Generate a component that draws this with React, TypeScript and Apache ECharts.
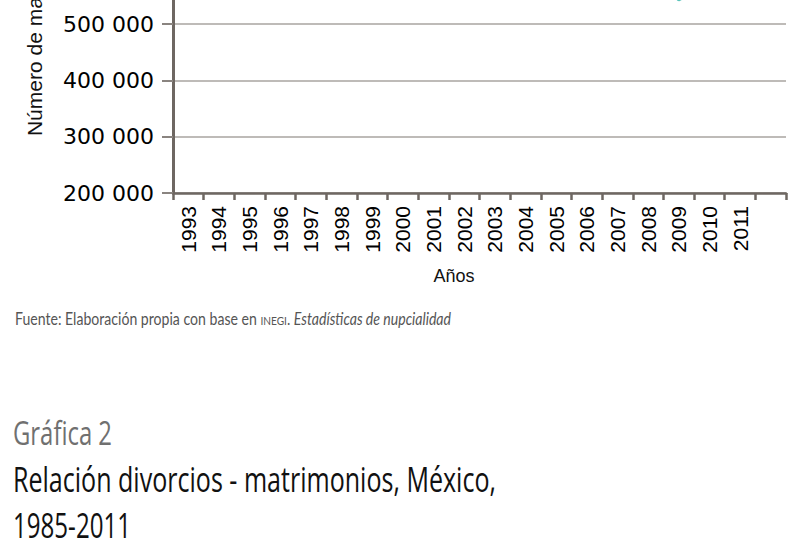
import React, { useEffect, useRef } from "react";
import * as echarts from "echarts";

const years = [
  "1993", "1994", "1995", "1996", "1997", "1998", "1999", "2000", "2001", "2002",
  "2003", "2004", "2005", "2006", "2007", "2008", "2009", "2010", "2011", "",
];
const marriages = [
  679911, 671640, 658114, 670523, 707840, 704456, 743856, 707422, 665434, 616654,
  584142, 600563, 595713, 586978, 595209, 589352, 543000, 568632, 570954, null,
];
const yTicks = { min: 200000, max: 800000, interval: 100000 };

const fmt = (v: number) => String(v).replace(/\B(?=(\d{3})+(?!\d))/g, " ");

type FitText = { top: number; left: number; width: number; fontSize: number; family: string; color: string; content: React.ReactNode };

const texts: FitText[] = [
  {
    top: 310, left: 15, width: 436, fontSize: 17, family: "Lato, sans-serif", color: "#555",
    content: (
      <>
        Fuente: Elaboración propia con base en <span style={{ fontSize: "0.72em" }}>INEGI</span>.{" "}
        <i>Estadísticas de nupcialidad</i>
      </>
    ),
  },
  { top: 416.6, left: 13, width: 99, fontSize: 32, family: "'Open Sans', sans-serif", color: "#707070", content: "Gráfica 2" },
  { top: 461.8, left: 13, width: 483, fontSize: 34, family: "'Open Sans', sans-serif", color: "#111", content: "Relación divorcios - matrimonios, México," },
  { top: 507.8, left: 13, width: 118, fontSize: 34, family: "'Open Sans', sans-serif", color: "#111", content: "1985-2011" },
];

export default function App() {
  const chartRef = useRef<HTMLDivElement>(null);
  const textRefs = useRef<(HTMLSpanElement | null)[]>([]);

  useEffect(() => {
    textRefs.current.forEach((el, i) => {
      if (!el) return;
      const w = el.getBoundingClientRect().width;
      if (w > 0) el.style.transform = `scaleX(${texts[i].width / w})`;
    });
  }, []);

  useEffect(() => {
    if (!chartRef.current) return;
    const chart = echarts.init(chartRef.current, undefined, { renderer: "svg" });
    const axisColor = "#6e6762";
    chart.setOption({
      animation: false,
      backgroundColor: "transparent",
      grid: { left: 173, right: 5, top: 15, bottom: 360, containLabel: false },
      xAxis: {
        type: "category",
        data: years,
        boundaryGap: true,
        name: "Años",
        nameLocation: "middle",
        nameGap: 74,
        nameTextStyle: { fontFamily: "Liberation Sans, Arial, sans-serif", fontSize: 18, color: "#111", padding: [0, 51, 0, 0], verticalAlign: "top" },
        axisLine: { show: true, lineStyle: { color: axisColor, width: 2.5 } },
        axisTick: { show: true, length: 7, lineStyle: { color: axisColor, width: 2.5 } },
        axisLabel: { interval: 0, rotate: 90, margin: 13, fontFamily: "Liberation Sans, Arial, sans-serif", fontSize: 21, color: "#000" },
        splitLine: { show: false },
      },
      yAxis: {
        type: "value",
        min: yTicks.min,
        max: yTicks.max,
        interval: yTicks.interval,
        name: "Número de matrimonios",
        nameLocation: "middle",
        nameRotate: 90,
        nameGap: 128,
        nameTextStyle: { fontFamily: "Liberation Sans, Arial, sans-serif", fontSize: 21, color: "#111" },
        axisLine: { show: true, lineStyle: { color: axisColor, width: 3 } },
        axisTick: { show: true, length: 11, lineStyle: { color: "#8a8480", width: 2 } },
        axisLabel: { margin: 19, fontFamily: "DejaVu Sans, sans-serif", fontSize: 22, color: "#000", formatter: (v: number) => fmt(v) },
        splitLine: { show: true, lineStyle: { color: "#a8a4a0", width: 1.5 } },
      },
      series: [
        {
          type: "line",
          data: marriages,
          symbol: "none",
          lineStyle: { color: "#5cc4bb", width: 3 },
          itemStyle: { color: "#5cc4bb" },
        },
      ],
    });
    return () => chart.dispose();
  }, []);

  return (
    <div style={{ position: "absolute", left: 0, top: 0, width: 791, height: 553, overflow: "hidden", background: "#fff" }}>
      <div ref={chartRef} style={{ position: "absolute", left: 0, top: -160, width: 791, height: 713 }} />
      {texts.map((t, i) => (
        <span
          key={i}
          ref={(el) => { textRefs.current[i] = el; }}
          style={{
            position: "absolute", top: t.top, left: t.left, fontSize: t.fontSize, fontFamily: t.family,
            color: t.color, lineHeight: 1, whiteSpace: "nowrap", display: "inline-block", transformOrigin: "0 0",
          }}
        >
          {t.content}
        </span>
      ))}
    </div>
  );
}
